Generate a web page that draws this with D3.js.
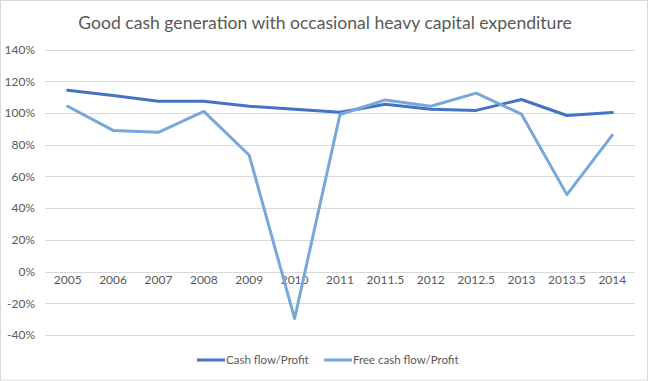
<!DOCTYPE html>
<html><head><meta charset="utf-8">
<script src="https://cdn.jsdelivr.net/npm/d3@7"></script>
<style>body{margin:0;background:#fff;} svg{display:block;font-family:Lato,"Open Sans",sans-serif;}</style>
</head><body>
<svg id="c" width="651" height="381"></svg>
<script>
const categories = ["2005","2006","2007","2008","2009","2010","2011","2011.5","2012","2012.5","2013","2013.5","2014"];
const cashFlow = [114.3,111,107.4,107.4,104.2,102.3,100.4,105.5,102.3,101.6,108.5,98.4,100.3];
const freeCashFlow = [104.2,89,87.8,101,73.3,-29.6,99,108.2,104.2,112.5,99.2,48.5,86];
const yTicks = [-40,-20,0,20,40,60,80,100,120,140];
const seriesNames = ["Cash flow/Profit","Free cash flow/Profit"];

const svg = d3.select("#c");
svg.append("rect").attr("x",0.5).attr("y",0.5).attr("width",647).attr("height",379.5)
  .attr("fill","#fff").attr("stroke","#d9d9d9");

const x = d3.scaleBand().domain(categories).range([45,635]);
const y = d3.scaleLinear().domain([-40,140]).range([335,49.5]);

svg.append("text").attr("x",325).attr("y",29).attr("text-anchor","middle")
  .attr("font-size",17.6).attr("fill","#595959").text("Good cash generation with occasional heavy capital expenditure");

const grid = svg.append("g");
grid.selectAll("line").data(yTicks).join("line")
  .attr("x1",45).attr("x2",635).attr("y1",d=>Math.round(y(d))+0.5).attr("y2",d=>Math.round(y(d))+0.5)
  .attr("stroke","#d9d9d9").attr("stroke-width",1);

const yAxis = d3.axisLeft(y).tickValues(yTicks).tickFormat(d=>d+"%").tickSize(0).tickPadding(0);
const ga = svg.append("g").attr("transform","translate(35,0)").call(yAxis);
ga.select(".domain").remove();
ga.selectAll("text").attr("font-size",12).attr("fill","#595959").attr("font-family","Lato,sans-serif");

const xAxis = d3.axisBottom(x).tickSize(0).tickPadding(0);
const gx = svg.append("g").attr("transform",`translate(0,${y(0)+4})`).call(xAxis);
gx.select(".domain").remove();
gx.selectAll("text").attr("font-size",12).attr("fill","#595959").attr("font-family","Lato,sans-serif");

const colors = ["#4472c4","#78a7da"];
const line = d3.line().x((d,i)=>x(categories[i])+x.bandwidth()/2).y(d=>y(d));
[cashFlow, freeCashFlow].forEach((s,k)=>{
  svg.append("path").datum(s).attr("d",line).attr("fill","none")
    .attr("stroke",colors[k]).attr("stroke-width",3).attr("stroke-linejoin","round").attr("stroke-linecap","round");
});

const legX = [197,324];
seriesNames.forEach((n,k)=>{
  svg.append("line").attr("x1",legX[k]).attr("x2",legX[k]+28).attr("y1",360).attr("y2",360)
    .attr("stroke",colors[k]).attr("stroke-width",3);
  svg.append("text").attr("x",legX[k]+29).attr("y",364).attr("font-size",11.5).attr("fill","#595959").text(n);
});
</script>
</body></html>
